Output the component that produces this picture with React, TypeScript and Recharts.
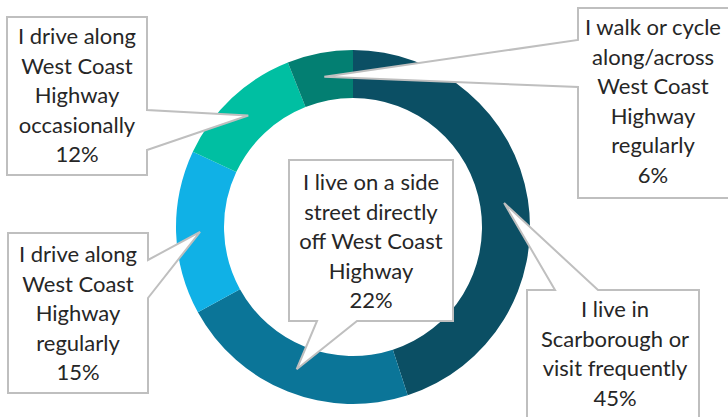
import { PieChart, Pie, Cell } from 'recharts'

// clockwise from 12 o'clock
const categories = [
  'I live in\nScarborough or\nvisit frequently',
  'I live on a side\nstreet directly\noff West Coast\nHighway',
  'I drive along\nWest Coast\nHighway\nregularly',
  'I drive along\nWest Coast\nHighway\noccasionally',
  'I walk or cycle\nalong/across\nWest Coast\nHighway\nregularly',
]
const shares = [45, 22, 15, 12, 6]
const colors = ['#0B4F64', '#0B7598', '#10B1E6', '#00BFA2', '#037F72']

const data = categories.map((name, i) => ({ name, value: shares[i] }))

type Side = 'top' | 'bottom' | 'left' | 'right'
interface Box {
  x0: number
  y0: number
  x1: number
  y1: number
  side: Side
  a: number
  b: number
  textX: number
  firstLine: number
}

// callout boxes (layout only)
const boxes: Box[] = [
  { x0: 527, y0: 290, x1: 699, y1: 425, side: 'top', a: 555, b: 598, textX: 615, firstLine: 317 },
  { x0: 289, y0: 160, x1: 453, y1: 321, side: 'bottom', a: 317, b: 357, textX: 371, firstLine: 190 },
  { x0: 8, y0: 233, x1: 148, y1: 393, side: 'right', a: 260, b: 298, textX: 78, firstLine: 262 },
  { x0: 7, y0: 17, x1: 147, y1: 175, side: 'right', a: 110, b: 150, textX: 77, firstLine: 44 },
  { x0: 578, y0: 8, x1: 732, y1: 198, side: 'left', a: 40, b: 87, textX: 653, firstLine: 35 },
]

const RADIAN = Math.PI / 180

function calloutPath(b: Box, tx: number, ty: number) {
  const { x0, y0, x1, y1, side, a, b: c } = b
  if (side === 'top')
    return `M${x0},${y0} H${a} L${tx},${ty} L${c},${y0} H${x1} V${y1} H${x0} Z`
  if (side === 'bottom')
    return `M${x0},${y0} H${x1} V${y1} H${c} L${tx},${ty} L${a},${y1} H${x0} Z`
  if (side === 'right')
    return `M${x0},${y0} H${x1} V${a} L${tx},${ty} L${x1},${c} V${y1} H${x0} Z`
  return `M${x0},${y0} H${x1} V${y1} H${x0} V${c} L${tx},${ty} L${x0},${a} Z`
}

function renderCallout(props: any) {
  const { cx, cy, midAngle, innerRadius, outerRadius, index, name, value } = props
  const b = boxes[index]
  const r = (innerRadius + outerRadius) / 2
  const tx = cx + r * Math.cos(-midAngle * RADIAN)
  const ty = cy + r * Math.sin(-midAngle * RADIAN)
  const lines = [...String(name).split('\n'), `${value}%`]
  return (
    <g key={`callout-${index}`}>
      <path d={calloutPath(b, tx, ty)} fill="#fff" stroke="#BFBFBF" strokeWidth={2} />
      <text
        x={b.textX}
        y={b.firstLine}
        textAnchor="middle"
        fill="#262626"
        fontSize={22}
        fontFamily="Lato, 'Open Sans', sans-serif"
      >
        {lines.map((l, i) => (
          <tspan key={i} x={b.textX} dy={i === 0 ? 0 : 29.5}>
            {l}
          </tspan>
        ))}
      </text>
    </g>
  )
}

export default function App() {
  return (
    <div style={{ position: 'absolute', left: 0, top: 0, background: '#fff' }}>
      <PieChart width={728} height={417} margin={{ top: 0, right: 0, bottom: 0, left: 0 }}>
        <Pie
          data={data}
          dataKey="value"
          nameKey="name"
          cx={353}
          cy={227}
          innerRadius={129}
          outerRadius={177}
          startAngle={90}
          endAngle={-270}
          stroke="none"
          label={renderCallout}
          labelLine={false}
          isAnimationActive={false}
        >
          {data.map((d, i) => (
            <Cell key={d.name} fill={colors[i]} />
          ))}
        </Pie>
      </PieChart>
    </div>
  )
}
